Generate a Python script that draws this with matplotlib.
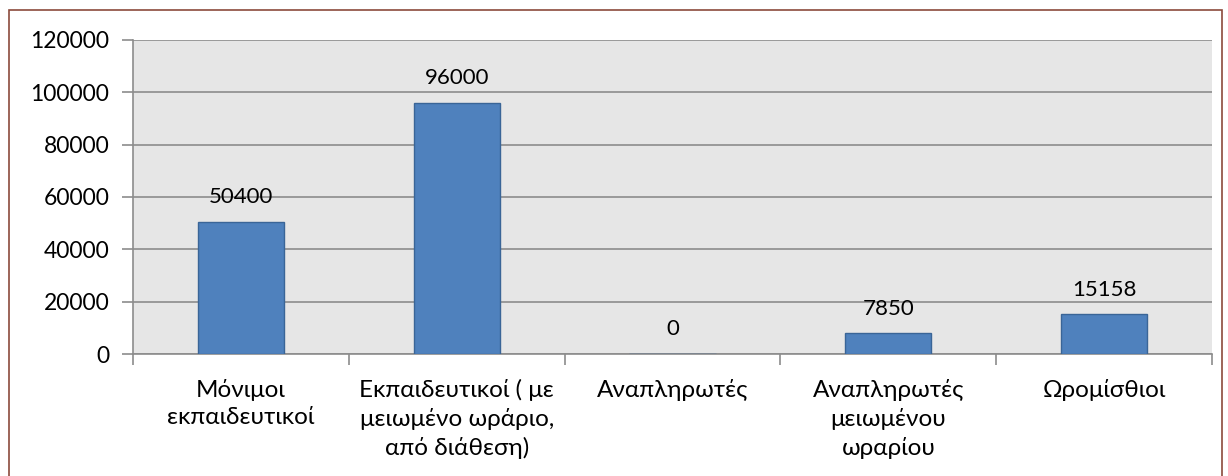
import matplotlib.pyplot as plt
from matplotlib.patches import Rectangle

categories = ["Μόνιμοι\nεκπαιδευτικοί", "Εκπαιδευτικοί ( με\nμειωμένο ωράριο,\nαπό διάθεση)",
              "Αναπληρωτές", "Αναπληρωτές\nμειωμένου\nωραρίου", "Ωρομίσθιοι"]
values = [50400, 96000, 0, 7850, 15158]
yticks = [0, 20000, 40000, 60000, 80000, 100000, 120000]

plt.rcParams['font.family'] = ['Lato', 'DejaVu Sans']

fig = plt.figure(figsize=(12.28, 4.76), dpi=100)
ax = fig.add_axes([0.1083, 0.2563, 0.8787, 0.6597])
ax.set_facecolor('#e6e6e6')

x = range(len(values))
bars = ax.bar(x, values, width=0.4, color='#4f81bd', edgecolor='#3a6597', linewidth=1, zorder=3)
for xi, v in zip(x, values):
    ax.annotate(str(v), (xi, v), xytext=(0, 13.5), textcoords='offset points',
                ha='center', va='baseline', fontsize=16, zorder=4)

ax.set_xlim(-0.5, len(values) - 0.5)
ax.set_ylim(0, 120000)
ax.set_yticks(yticks)
ax.set_yticklabels([str(t) for t in yticks], fontsize=16.5)
ax.yaxis.grid(True, color='#8c8c8c', linewidth=1.2, zorder=1)
ax.tick_params(axis='y', length=8, color='#8c8c8c', width=1.2, pad=9)

ax.set_xticks([i - 0.5 for i in range(len(values) + 1)], minor=False)
ax.set_xticklabels([''] * (len(values) + 1))
ax.tick_params(axis='x', length=8, color='#8c8c8c', width=1.2)
ax.set_xticks(list(x), minor=True)
ax.set_xticklabels(categories, minor=True, fontsize=17.5, va='top', linespacing=1.38)
ax.tick_params(axis='x', which='minor', length=0, pad=18)

for s in ['top', 'right']:
    ax.spines[s].set_visible(False)
ax.spines['left'].set_color('#8c8c8c')
ax.spines['left'].set_linewidth(1.2)
ax.spines['bottom'].set_color('#8c8c8c')
ax.spines['bottom'].set_linewidth(1.2)

fig.patches.append(Rectangle((9 / 1228, -0.1), (1222 - 9) / 1228, 1.1 - 10 / 476,
                             transform=fig.transFigure, fill=False,
                             edgecolor='#8b4a3c', linewidth=1.2))

fig.savefig('out.png', dpi=100)
